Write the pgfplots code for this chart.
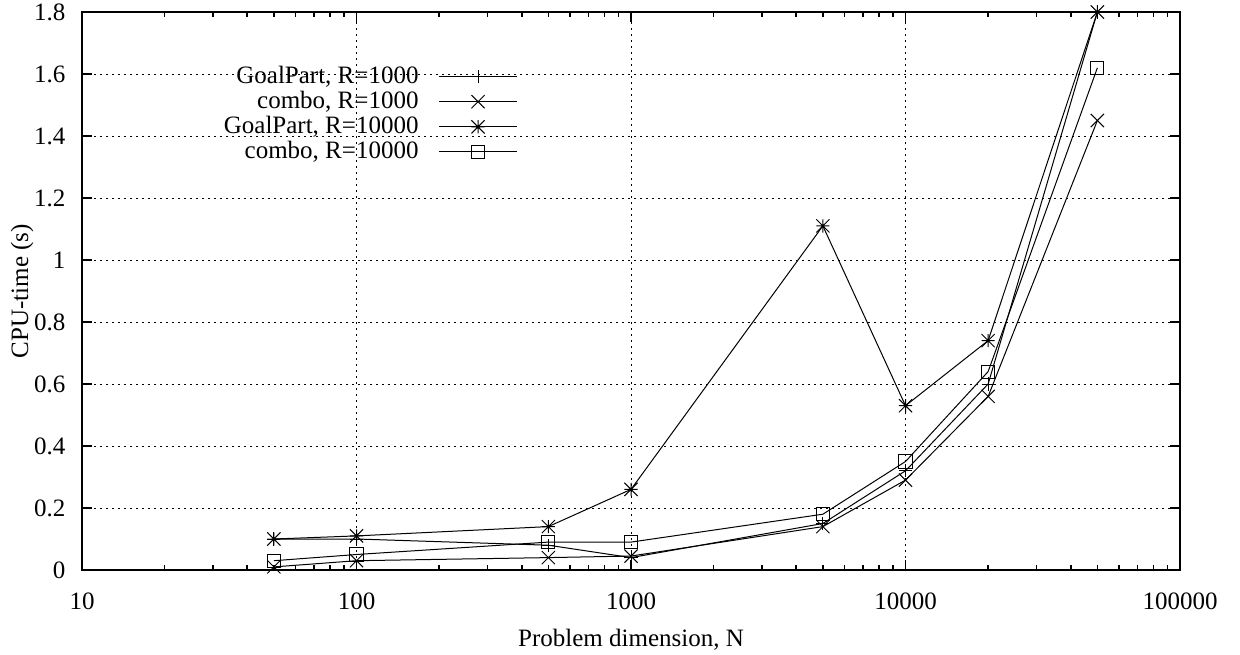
\documentclass[border=0pt]{standalone}
\usepackage{pgfplots}
\pgfplotsset{compat=1.18}
\usepackage{fontspec}
\setmainfont{Liberation Serif}
\pgfdeclareplotmark{gstar}{%
  \pgfpathmoveto{\pgfqpoint{-\pgfplotmarksize}{0pt}}\pgfpathlineto{\pgfqpoint{\pgfplotmarksize}{0pt}}%
  \pgfpathmoveto{\pgfqpoint{0pt}{-\pgfplotmarksize}}\pgfpathlineto{\pgfqpoint{0pt}{\pgfplotmarksize}}%
  \pgfpathmoveto{\pgfqpoint{-\pgfplotmarksize}{-\pgfplotmarksize}}\pgfpathlineto{\pgfqpoint{\pgfplotmarksize}{\pgfplotmarksize}}%
  \pgfpathmoveto{\pgfqpoint{-\pgfplotmarksize}{\pgfplotmarksize}}\pgfpathlineto{\pgfqpoint{\pgfplotmarksize}{-\pgfplotmarksize}}%
  \pgfusepathqstroke}
\pgfdeclareplotmark{gx}{%
  \pgfpathmoveto{\pgfqpoint{-\pgfplotmarksize}{-\pgfplotmarksize}}\pgfpathlineto{\pgfqpoint{\pgfplotmarksize}{\pgfplotmarksize}}%
  \pgfpathmoveto{\pgfqpoint{-\pgfplotmarksize}{\pgfplotmarksize}}\pgfpathlineto{\pgfqpoint{\pgfplotmarksize}{-\pgfplotmarksize}}%
  \pgfusepathqstroke}
\begin{document}
\fontsize{12.5}{15}\selectfont
\begin{tikzpicture}
\begin{axis}[
  name=ax,
  xmode=log, scale only axis, width=549pt, height=279pt,
  xmin=10, xmax=100000, ymin=0, ymax=1.8,
  xtick={10,100,1000,10000,100000},
  xticklabels={10,100,1000,10000,100000},
  ytick={0,0.2,0.4,0.6,0.8,1,1.2,1.4,1.6,1.8},
  yticklabels={0,0.2,0.4,0.6,0.8,1,1.2,1.4,1.6,1.8},
  /pgf/number format/assume math mode=true,
  xticklabel style={yshift=-7pt},
  yticklabel style={xshift=-4pt},
  tick align=inside, major tick length=5pt, minor tick length=2.5pt,
  tick style={black, line width=0.8pt},
  grid=major, major grid style={black, dash pattern=on 0.8pt off 2.2pt, line width=0.5pt},
  axis line style={line width=1pt},
  xlabel={Problem dimension, N}, ylabel={CPU-time (s)},
  every axis x label/.style={at={([yshift=-35pt]axis description cs:0.5,0)}, anchor=center},
  every axis y label/.style={at={([xshift=-30pt]axis description cs:0,0.5)}, rotate=90, anchor=center},
  clip=false,
  every axis plot/.append style={black, line width=0.5pt, mark size=3.3pt, mark options={solid, line width=0.5pt}},
  legend plot pos=right,
  legend cell align=right,
  legend style={draw=none, fill=none, at={(0.397,0.911)}, anchor=north east, row sep=-2pt, inner sep=0pt},
  legend image code/.code={\draw[mark repeat=2,mark phase=2] plot coordinates {(0pt,0pt)(19.5pt,0pt)(39pt,0pt)};},
]
\addplot[mark=+] coordinates {(50,0.10)(100,0.10)(500,0.08)(1000,0.04)(5000,0.15)(10000,0.32)(20000,0.60)(50000,1.80)};
\addlegendentry{GoalPart, R=1000\rule{8pt}{0pt}}
\addplot[mark=gx] coordinates {(50,0.01)(100,0.03)(500,0.04)(1000,0.045)(5000,0.14)(10000,0.29)(20000,0.56)(50000,1.45)};
\addlegendentry{combo, R=1000\rule{8pt}{0pt}}
\addplot[mark=gstar] coordinates {(50,0.10)(100,0.11)(500,0.14)(1000,0.26)(5000,1.11)(10000,0.53)(20000,0.74)(50000,1.80)};
\addlegendentry{GoalPart, R=10000\rule{8pt}{0pt}}
\addplot[mark=square] coordinates {(50,0.03)(100,0.05)(500,0.09)(1000,0.09)(5000,0.18)(10000,0.35)(20000,0.64)(50000,1.62)};
\addlegendentry{combo, R=10000\rule{8pt}{0pt}}
\end{axis}
\pgfresetboundingbox
\path ([shift={(-41pt,-42pt)}]ax.south west) rectangle ([shift={(30pt,6pt)}]ax.north east);
\end{tikzpicture}
\end{document}
